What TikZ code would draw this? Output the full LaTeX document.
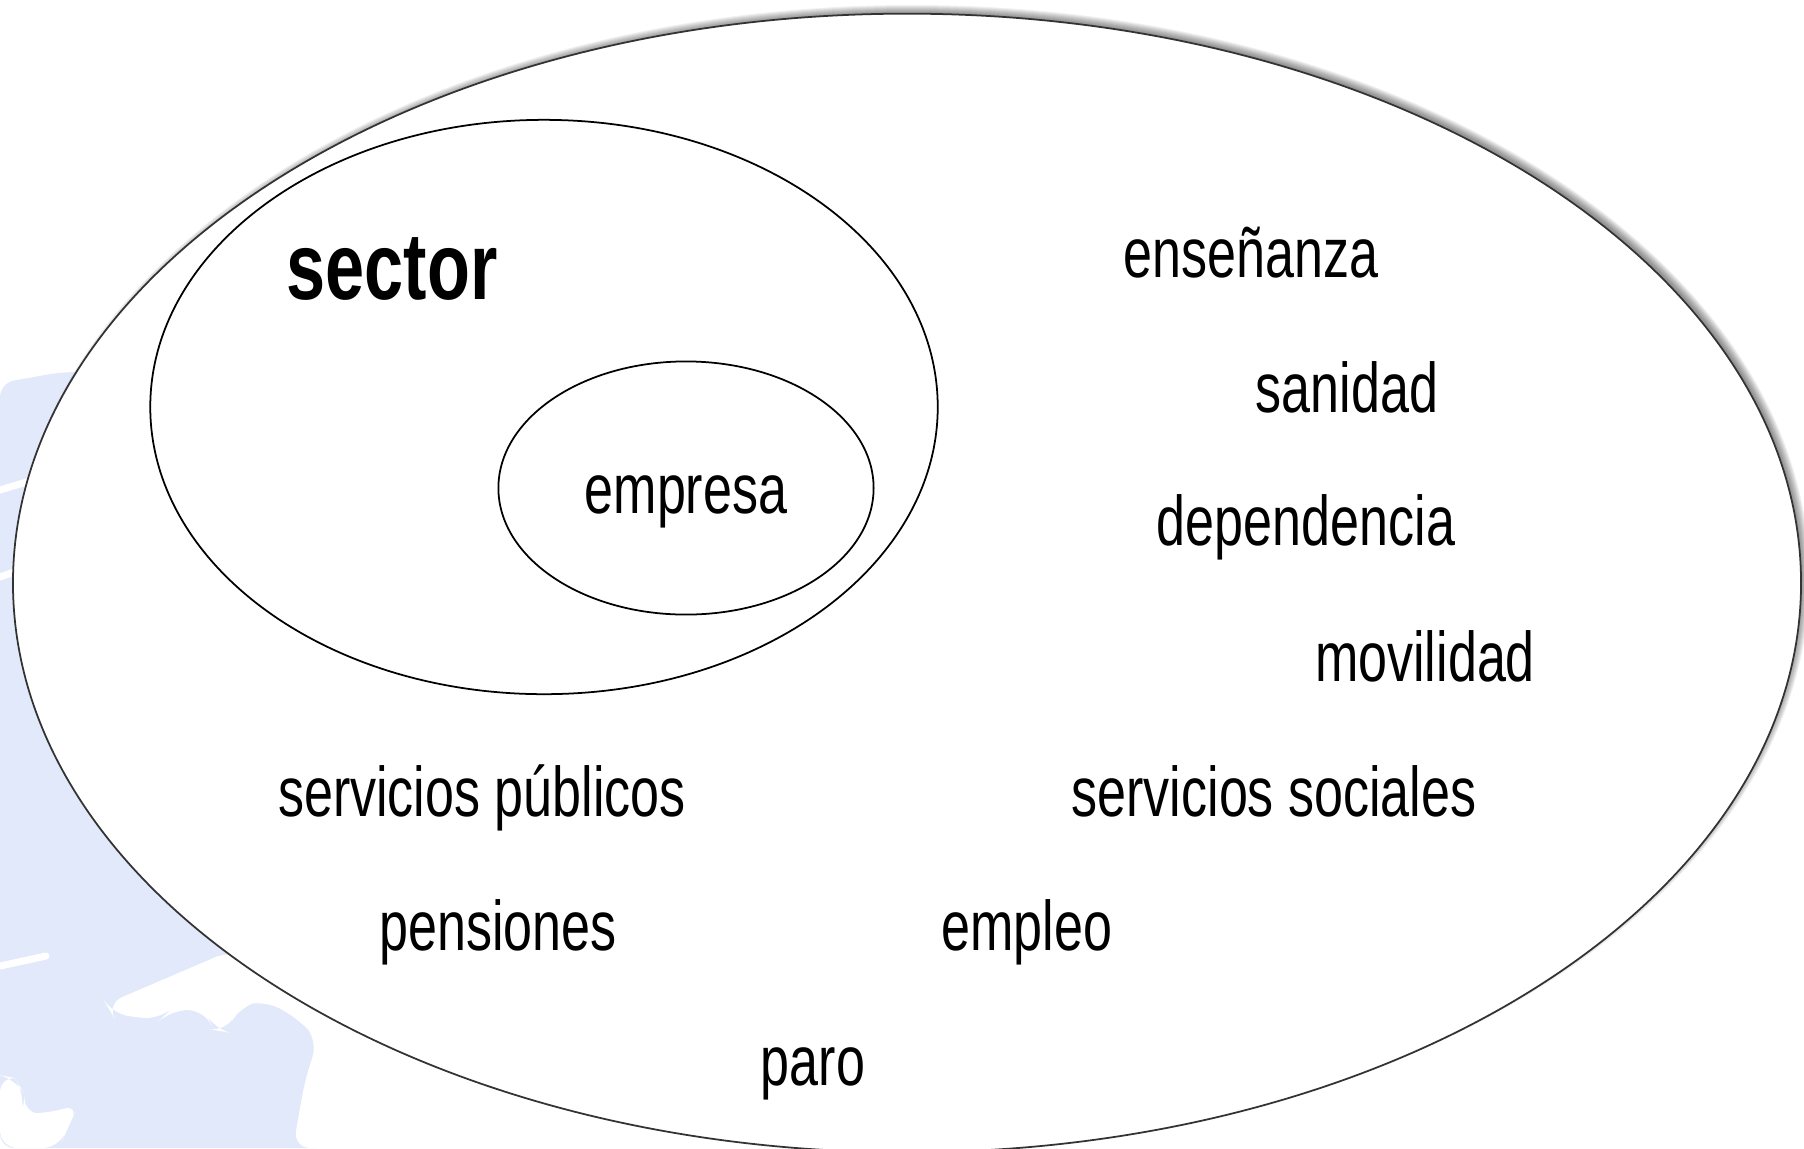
\documentclass[tikz,border=0pt]{standalone}
\usepackage{fontspec}
\setmainfont{Liberation Sans}[FakeStretch=0.74]
\usetikzlibrary{shapes.geometric}
\definecolor{mapblue}{RGB}{226,233,251}

\begin{document}
\begin{tikzpicture}[
  x=0.01cm, y=-0.01cm,
  set/.style={draw, ellipse, inner sep=0pt, line width=0.5pt},
  word/.style={anchor=base, font=\fontsize{20}{24}\selectfont},
  sea/.style={fill=white, rounded corners=5pt},
  streak/.style={draw=white, line width=2pt, line cap=round}
]
\useasboundingbox (0,0) rectangle (1804,1148);

\fill[mapblue, rounded corners=4pt] (0,383) -- (62,372) -- (330,372) -- (330,1148) -- (0,1148) -- cycle;
\path[streak] (0,490) -- (30,481);
\path[streak] (0,577) -- (14,572);
\path[streak] (0,966) -- (46,956);
\fill[sea] (106,1004) -- (232,950) -- (345,1020) -- (333,1045) -- (336,1085) -- (352,1093)
  -- (440,1060) -- (700,1148) -- (293,1148) -- (305,1080) -- (318,1040) -- (300,1020)
  -- (265,1000) -- (240,1006) -- (226,1032) -- (214,1030) -- (205,1010) -- (170,1010)
  -- (160,1020) -- (112,1014) -- cycle;
\fill[sea] (0,1075) -- (15,1078) -- (25,1095) -- (22,1113) -- (45,1114) -- (80,1104)
  -- (68,1126) -- (60,1148) -- (0,1148) -- cycle;

\foreach \s in {1,...,9}
  \fill[black, opacity=0.06] (912,578) ellipse [x radius=888.5+\s, y radius=564+\s];

\node[set, fill=white, draw=black!80, minimum width=17.87cm, minimum height=11.38cm] (whole) at (907,583) {};
\node[set, minimum width=7.87cm, minimum height=5.74cm] (sectorset) at (544,407) {};
\node[set, minimum width=3.75cm, minimum height=2.53cm] (empresaset) at (686,488) {};

\node[word, font=\fontsize{27}{32}\selectfont\bfseries] (sector) at (392,299) {sector};
\node[word] (empresa) at (686,513) {empresa};
\node[word] (ensenanza) at (1251,277) {enseñanza};
\node[word] (sanidad) at (1347,412) {sanidad};
\node[word] (dependencia) at (1306,545) {dependencia};
\node[word] (movilidad) at (1425,681) {movilidad};
\node[word] (sociales) at (1274,816) {servicios sociales};
\node[word] (publicos) at (482,816) {servicios públicos};
\node[word] (pensiones) at (498,950) {pensiones};
\node[word] (empleo) at (1027,950) {empleo};
\node[word] (paro) at (813,1085) {paro};
\end{tikzpicture}
\end{document}
